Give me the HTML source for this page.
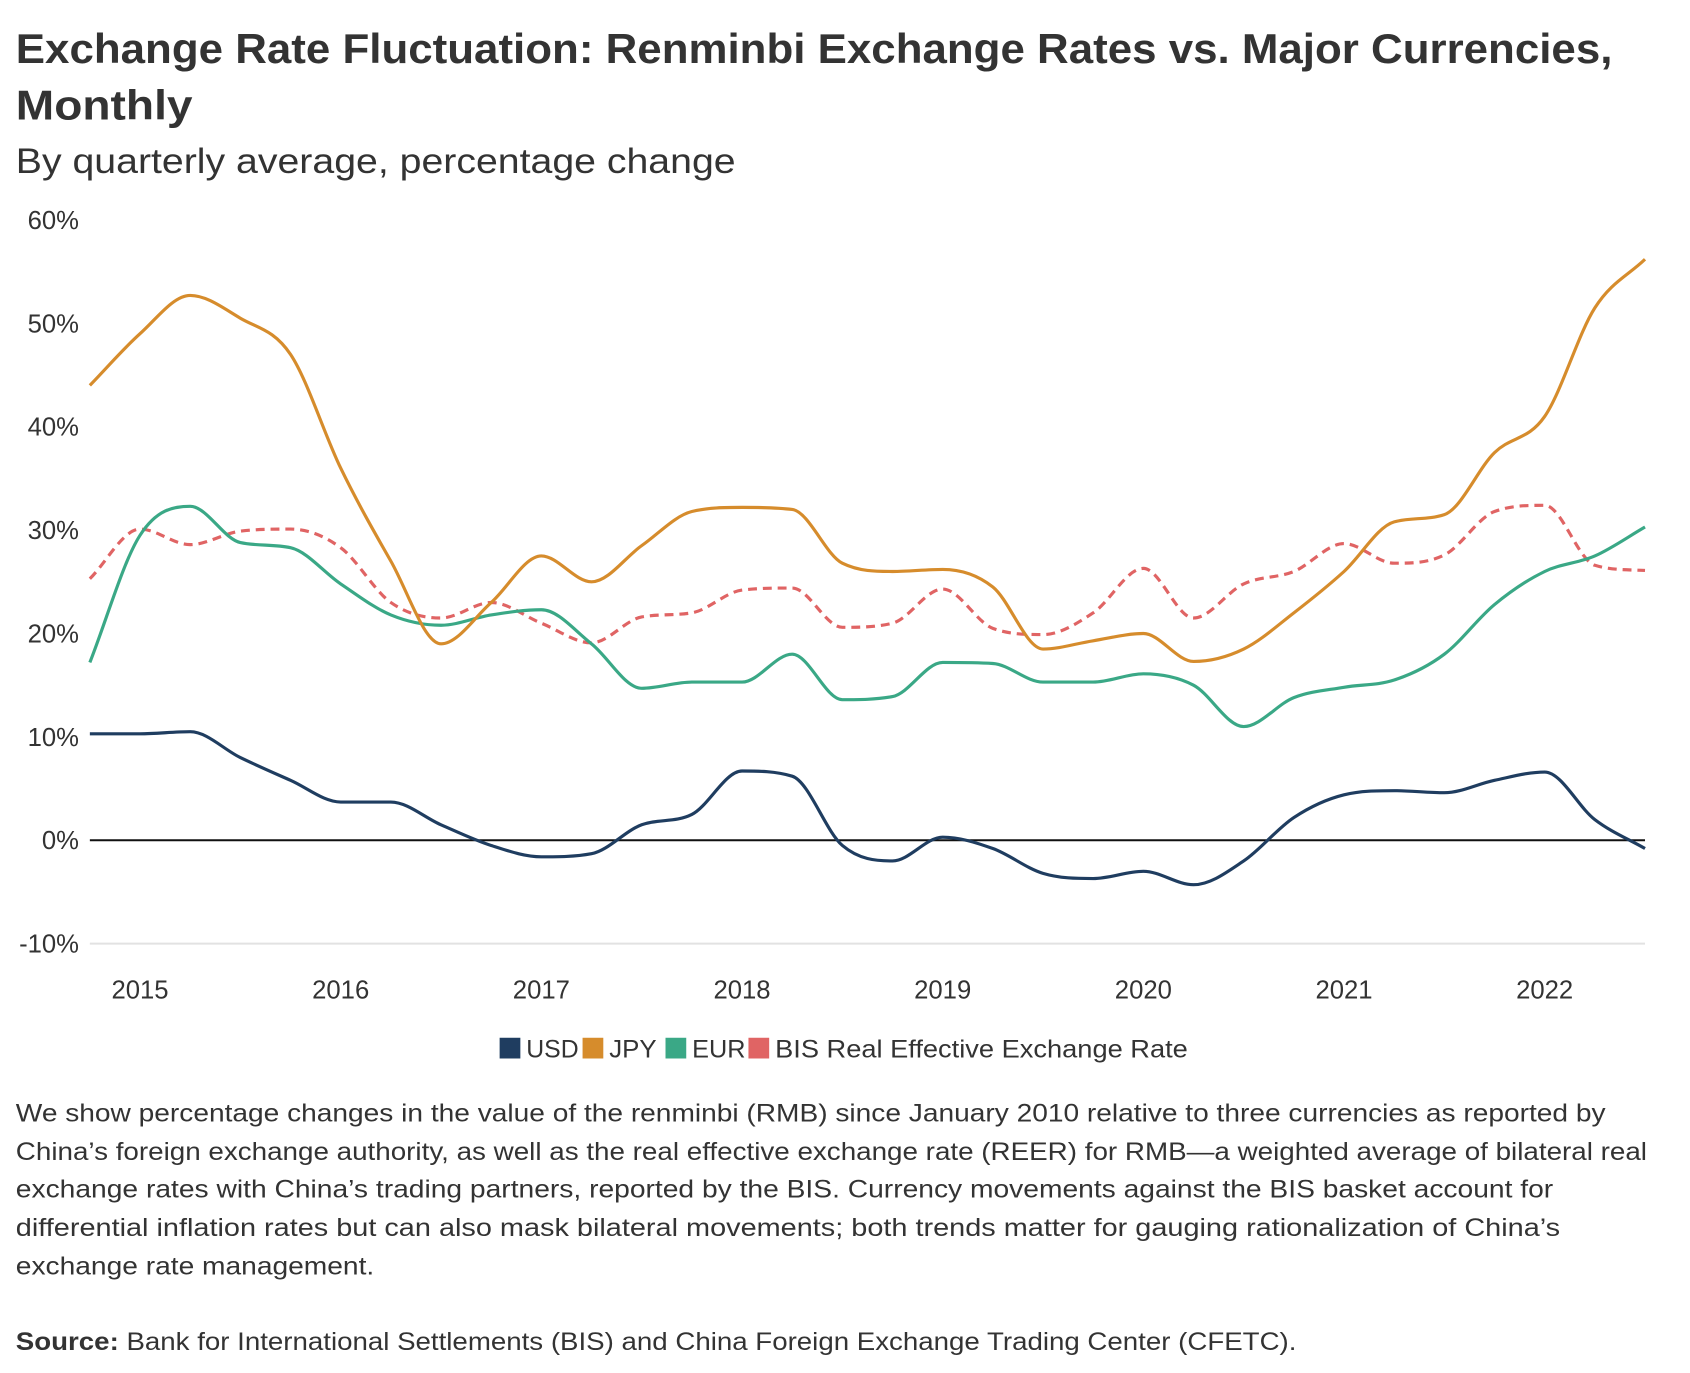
<!DOCTYPE html>
<html><head><meta charset="utf-8">
<style>
html,body{margin:0;padding:0;background:#fff;}
svg{display:block;font-family:"Liberation Sans",sans-serif;}
</style></head>
<body>
<svg id="chart" width="1690" height="1373" viewBox="0 0 1690 1373" xmlns="http://www.w3.org/2000/svg">
<rect width="1690" height="1373" fill="#fff"/>
<g transform="scale(0.9874)">
<text x="16" y="64" font-size="42" font-weight="bold" fill="#333" textLength="1617" lengthAdjust="spacingAndGlyphs">Exchange Rate Fluctuation: Renminbi Exchange Rates vs. Major Currencies,</text>
<text x="16" y="121" font-size="42" font-weight="bold" fill="#333" textLength="179" lengthAdjust="spacingAndGlyphs">Monthly</text>
<text x="16" y="175" font-size="36" fill="#333" textLength="729" lengthAdjust="spacingAndGlyphs">By quarterly average, percentage change</text>
<g id="plot"></g>
<g id="legend"></g>
<g font-size="25" fill="#333">
<text x="16" y="1136" textLength="1610" lengthAdjust="spacingAndGlyphs">We show percentage changes in the value of the renminbi (RMB) since January 2010 relative to three currencies as reported by</text>
<text x="16" y="1175" textLength="1652" lengthAdjust="spacingAndGlyphs">China’s foreign exchange authority, as well as the real effective exchange rate (REER) for RMB—a weighted average of bilateral real</text>
<text x="16" y="1213" textLength="1557" lengthAdjust="spacingAndGlyphs">exchange rates with China’s trading partners, reported by the BIS. Currency movements against the BIS basket account for</text>
<text x="16" y="1252" textLength="1564" lengthAdjust="spacingAndGlyphs">differential inflation rates but can also mask bilateral movements; both trends matter for gauging rationalization of China’s</text>
<text x="16" y="1291" textLength="363" lengthAdjust="spacingAndGlyphs">exchange rate management.</text>
</g>
<text x="16" y="1367" font-size="25" fill="#333" textLength="1297" lengthAdjust="spacingAndGlyphs"><tspan font-weight="bold">Source:</tspan> Bank for International Settlements (BIS) and China Foreign Exchange Trading Center (CFETC).</text>
</g>
</svg>
<script>
const quarters = ["2014Q4","2015Q1","2015Q2","2015Q3","2015Q4","2016Q1","2016Q2","2016Q3","2016Q4","2017Q1","2017Q2","2017Q3","2017Q4","2018Q1","2018Q2","2018Q3","2018Q4","2019Q1","2019Q2","2019Q3","2019Q4","2020Q1","2020Q2","2020Q3","2020Q4","2021Q1","2021Q2","2021Q3","2021Q4","2022Q1","2022Q2","2022Q3"];
const usd = [10.3,10.3,10.5,8.0,5.8,3.7,3.7,1.5,-0.5,-1.6,-1.3,1.5,2.5,6.7,6.2,-0.5,-2.0,0.3,-0.8,-3.2,-3.7,-3.0,-4.3,-2.0,2.2,4.4,4.8,4.6,5.8,6.6,2.0,-0.8];
const jpy = [44,49,52.7,50.5,47,36,27,19,23,27.5,25,28.5,31.8,32.2,32.0,26.8,26,26.2,24.5,18.5,19.3,20.0,17.3,18.5,22,26,30.8,31.5,37.5,41,51.5,56.2];
const eur = [17.2,29.5,32.3,28.8,28.3,24.8,21.8,20.8,21.8,22.3,19.0,14.7,15.3,15.3,18.0,13.6,13.9,17.2,17.1,15.3,15.3,16.1,15.0,11.0,13.8,14.8,15.5,18.0,22.8,26.0,27.5,30.3];
const bis = [25.3,30.1,28.6,29.9,30.1,28.3,23.0,21.5,23.0,21.0,19.1,21.6,22.0,24.2,24.4,20.6,21.0,24.3,20.5,19.9,22.0,26.3,21.5,24.8,26.0,28.7,26.8,27.6,31.8,32.4,26.6,26.1];
const yTicks = [-10,0,10,20,30,40,50,60];
const yTickLabels = ["-10%","0%","10%","20%","30%","40%","50%","60%"];
const xYears = [2015,2016,2017,2018,2019,2020,2021,2022];
const seriesNames = ["USD","JPY","EUR","BIS Real Effective Exchange Rate"];

const NS="http://www.w3.org/2000/svg";
const X0=91, X1=1666, Y0=851, PER10=104.7;
function x(i){return X0 + i*(X1-X0)/(quarters.length-1);}
function xYear(yr){return x((yr-2015)*4+1);}
function y(v){return Y0 - v*PER10/10;}
function mk(tag,attrs,parent){const e=document.createElementNS(NS,tag);for(const k in attrs)e.setAttribute(k,attrs[k]);parent.appendChild(e);return e;}
const plot=document.getElementById('plot');

yTicks.forEach((t,k)=>{
  if(t===-10){
    const g=mk('line',{x1:X0,x2:X1,y1:y(t),y2:y(t),stroke:'#e2e2e2','stroke-width':2},plot);
    
    
  }
  const tx=mk('text',{x:80,y:y(t)+9,'text-anchor':'end','font-size':26,fill:'#333'},plot);
  tx.textContent=yTickLabels[k];
  
  
});
xYears.forEach(yr=>{
  const tx=mk('text',{x:xYear(yr),y:1011,'text-anchor':'middle','font-size':26,fill:'#333'},plot);
  tx.textContent=String(yr);
  
  
});

function monotonePath(vals){
  const n=vals.length, xs=vals.map((_,i)=>x(i)), ys=vals.map(y);
  const d=[],m=[];
  for(let i=0;i<n-1;i++)d.push((ys[i+1]-ys[i])/(xs[i+1]-xs[i]));
  m[0]=d[0];m[n-1]=d[n-2];
  for(let i=1;i<n-1;i++){ if(d[i-1]*d[i]<=0)m[i]=0; else m[i]=(d[i-1]+d[i])/2; }
  for(let i=0;i<n-1;i++){ if(d[i]===0){m[i]=0;m[i+1]=0;continue;}
    const a=m[i]/d[i],b=m[i+1]/d[i],s=a*a+b*b; if(s>9){const t=3/Math.sqrt(s);m[i]=t*a*d[i];m[i+1]=t*b*d[i];}}
  let p=`M${xs[0]},${ys[0]}`;
  for(let i=0;i<n-1;i++){const h=(xs[i+1]-xs[i])/3;
    p+=` C${xs[i]+h},${ys[i]+m[i]*h} ${xs[i+1]-h},${ys[i+1]-m[i+1]*h} ${xs[i+1]},${ys[i+1]}`;}
  return p;
}
const colors={usd:'#1f3d60',jpy:'#d68c2c',eur:'#3aa886',bis:'#e06464'};
[['bis',bis,true],['eur',eur,false],['jpy',jpy,false]].forEach(([k,vals,dash])=>{
  const p=mk('path',{d:monotonePath(vals),fill:'none',stroke:colors[k],'stroke-width':3.2,'stroke-linejoin':'round'},plot);
  if(dash)p.setAttribute('stroke-dasharray','9 6');
  
  
});
const zl=mk('line',{x1:X0,x2:X1,y1:y(0),y2:y(0),stroke:'#111','stroke-width':2},plot);


const up=mk('path',{d:monotonePath(usd),fill:'none',stroke:colors.usd,'stroke-width':3.2},plot);



const legend=document.getElementById('legend');
const legCols=[colors.usd,colors.jpy,colors.eur,colors.bis];
const legX=[506,590,674,758], legTextW=[53,48,54,418];
seriesNames.forEach((nm,i)=>{
  const g=mk('g',{},legend);
  
  
  mk('rect',{x:legX[i],y:1051,width:21,height:21,fill:legCols[i]},g);
  const t=mk('text',{x:legX[i]+27,y:1071,'font-size':25,fill:'#333',textLength:legTextW[i],lengthAdjust:'spacingAndGlyphs'},g);
  t.textContent=nm;
});
</script>
</body></html>
